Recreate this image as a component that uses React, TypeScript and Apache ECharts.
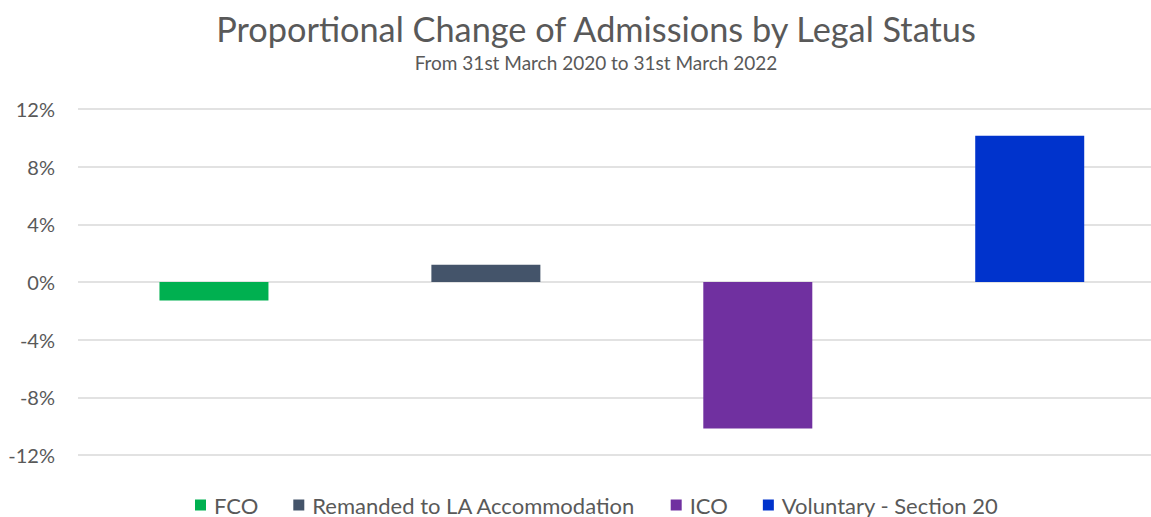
import React, { useEffect, useRef } from "react";
import * as echarts from "echarts";

const categories = ["FCO", "Remanded to LA Accommodation", "ICO", "Voluntary - Section 20"];
const seriesNames = ["FCO", "Remanded to LA Accommodation", "ICO", "Voluntary - Section 20"];
const seriesValues = [-1.28, 1.2, -10.17, 10.15];
const seriesColors = ["#00B050", "#44546A", "#7030A0", "#0033CC"];
const yTicks = { min: -12, max: 12, interval: 4 };

export default function App() {
  const ref = useRef<HTMLDivElement>(null);
  useEffect(() => {
    document.body.style.margin = "0";
    const chart = echarts.init(ref.current!, undefined, { renderer: "svg" });
    const font = "Lato, 'Open Sans', sans-serif";
    chart.setOption({
      animation: false,
      textStyle: { fontFamily: font },
      title: [
        {
          text: "Proportional Change of Admissions by Legal Status",
          left: 591,
          top: 6,
          textAlign: "center",
          textStyle: { fontSize: 34.3, fontWeight: "normal", color: "#595959", fontFamily: font },
        },
        {
          text: "From 31st March 2020 to 31st March 2022",
          left: 591,
          top: 48,
          textAlign: "center",
          textStyle: { fontSize: 19, fontWeight: "normal", color: "#595959", fontFamily: font },
        },
      ],
      legend: {
        left: 190,
        top: 489,
        itemWidth: 11,
        itemHeight: 11,
        itemGap: 35,
        icon: "rect",
        textStyle: { fontSize: 22, color: "#595959", fontFamily: font, padding: [0, 0, 0, 3] },
        data: seriesNames,
      },
      grid: { left: 78, top: 109, right: 0, height: 346, containLabel: false },
      xAxis: {
        type: "value",
        min: 0,
        max: 3.946,
        show: false,
        splitLine: { show: false },
      },
      yAxis: {
        type: "value",
        min: yTicks.min,
        max: yTicks.max,
        interval: yTicks.interval,
        axisLine: { show: false },
        axisTick: { show: false },
        axisLabel: { formatter: "{value}%", fontSize: 20, color: "#595959", margin: 23, fontFamily: font },
        splitLine: { lineStyle: { color: "#D9D9D9", width: 1.5 } },
      },
      series: seriesNames.map((name, i) => ({
        name,
        type: "bar",
        barWidth: 109,
        barGap: "-100%",
        itemStyle: { color: seriesColors[i] },
        data: [[categories.indexOf(name) + 0.5, seriesValues[i]]],
      })),
    });
    return () => chart.dispose();
  }, []);
  return <div ref={ref} style={{ width: 1151, height: 517 }} />;
}
